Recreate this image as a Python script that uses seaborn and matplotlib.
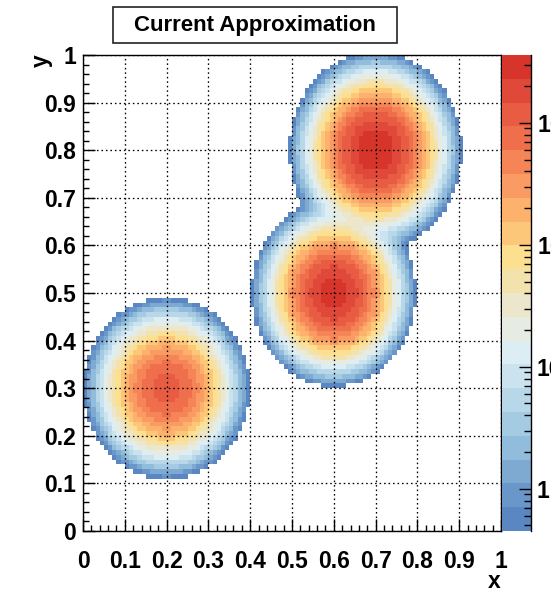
import numpy as np
import pandas as pd
import matplotlib
matplotlib.use("Agg")
import matplotlib.pyplot as plt
import seaborn as sns
from matplotlib.colors import ListedColormap, LogNorm
from matplotlib.ticker import MultipleLocator, FuncFormatter, FixedLocator, LogLocator, NullFormatter
from matplotlib.patches import Rectangle

# --- data: three Gaussian components of the approximated density --------
n_bins = 100
blob_x = [0.20, 0.60, 0.70]          # component centres in x
blob_y = [0.30, 0.50, 0.80]          # component centres in y
blob_sx = [0.050, 0.047, 0.049]      # widths in x
blob_sy = [0.048, 0.047, 0.049]      # widths in y
blob_peak = [1200.0, 3000.0, 3500.0] # peak heights
z_min, z_max = 0.45, 3600.0          # colour (z) axis range

cbar_ticks = [1, 10, 100, 1000]
cbar_labels = ["1", "10", r"$\mathbf{10^{2}}$", r"$\mathbf{10^{3}}$"]

# 20-level palette, low to high
palette = ["#5a87c1", "#6a97c9", "#7eaad2", "#92bcdb", "#a5cbe3",
           "#b8d8ea", "#cbe3ef", "#dcedf4", "#e6ece2", "#ece7cc",
           "#f4e2ad", "#fde08f", "#fdc77a", "#fcb16c", "#f99b62",
           "#f58457", "#ef6e4c", "#e85c44", "#e0483a", "#d7352b"]

# --- histogram contents ---------------------------------------------------
centres = (np.arange(n_bins) + 0.5) / n_bins
gx, gy = np.meshgrid(centres, centres)   # rows follow y, columns follow x
z = np.zeros_like(gx)
for cx, cy, sx, sy, a in zip(blob_x, blob_y, blob_sx, blob_sy, blob_peak):
    z += a * np.exp(-((gx - cx) ** 2 / (2 * sx ** 2) + (gy - cy) ** 2 / (2 * sy ** 2)))
hist = pd.DataFrame(z, index=centres, columns=centres)

# --- figure ---------------------------------------------------------------
plt.rcParams["font.family"] = ["Liberation Sans", "DejaVu Sans"]
plt.rcParams["font.weight"] = "bold"
plt.rcParams["mathtext.fontset"] = "custom"
plt.rcParams["mathtext.bf"] = "Liberation Sans:bold"
plt.rcParams["mathtext.rm"] = "Liberation Sans:bold"

W, H = 551, 591
LABEL_SIZE = 16.5
fig = plt.figure(figsize=(W / 100, H / 100), dpi=100)
ax = fig.add_axes([83 / W, 1 - 531 / H, 418 / W, 476 / H])
cax = fig.add_axes([502 / W, 1 - 531 / H, 29 / W, 476 / H])

cmap = ListedColormap(palette)
sns.heatmap(hist, mask=z < z_min, cmap=cmap, norm=LogNorm(vmin=z_min, vmax=z_max),
            ax=ax, cbar_ax=cax, xticklabels=False, yticklabels=False)
ax.set_xlim(0, n_bins)
ax.set_ylim(0, n_bins)
ax.set_xlabel("")
ax.set_ylabel("")

for s in ax.spines.values():
    s.set_visible(True)
    s.set_color("black")
    s.set_linewidth(1.0)

fmt = FuncFormatter(lambda v, p: f"{v / n_bins:g}")
for axis in (ax.xaxis, ax.yaxis):
    axis.set_major_locator(MultipleLocator(10))
    axis.set_minor_locator(MultipleLocator(2))
    axis.set_major_formatter(fmt)
ax.tick_params(which="both", direction="in", top=False, right=False,
               bottom=True, left=True, colors="black", width=1.0)
ax.tick_params(which="major", length=8.7, labelsize=LABEL_SIZE)
ax.tick_params(which="minor", length=4.6)
ax.tick_params(axis="x", which="major", pad=14)
ax.tick_params(axis="y", which="major", pad=5)

ax.set_axisbelow(False)
ax.grid(True, which="major", color="black", linestyle=(0, (1.2, 2.2)), linewidth=0.95)

fig.text(494 / W, 1 - 582 / H, "x", ha="center", va="center",
         fontsize=LABEL_SIZE, fontweight="bold")
fig.text(41 / W, 1 - 54 / H, "y", ha="center", va="top",
         rotation=90, fontsize=LABEL_SIZE, fontweight="bold")

# colour bar
cbar = ax.collections[0].colorbar
cbar.outline.set_visible(False)
cax.spines["right"].set_visible(True)
cax.spines["right"].set_linewidth(1.0)
cax.yaxis.set_major_locator(FixedLocator(cbar_ticks))
cax.yaxis.set_major_formatter(FuncFormatter(
    lambda v, p: cbar_labels[cbar_ticks.index(v)] if v in cbar_ticks else ""))
cax.yaxis.set_minor_locator(LogLocator(base=10, subs=np.arange(2, 10)))
cax.yaxis.set_minor_formatter(NullFormatter())
cax.tick_params(which="both", direction="in", right=True, left=False, colors="black", width=1.0)
cax.tick_params(which="major", length=9, labelsize=LABEL_SIZE, pad=4)
cax.tick_params(which="minor", length=5)

# title box
fig.add_artist(Rectangle((113 / W, 1 - 43 / H), 284 / W, 36 / H, transform=fig.transFigure,
                         fill=True, facecolor="white", edgecolor="#222222", linewidth=1.2))
fig.text(255 / W, 1 - 25 / H, "Current Approximation", ha="center", va="center",
         fontsize=16, fontweight="bold")

fig.savefig("out.png", dpi=100)
